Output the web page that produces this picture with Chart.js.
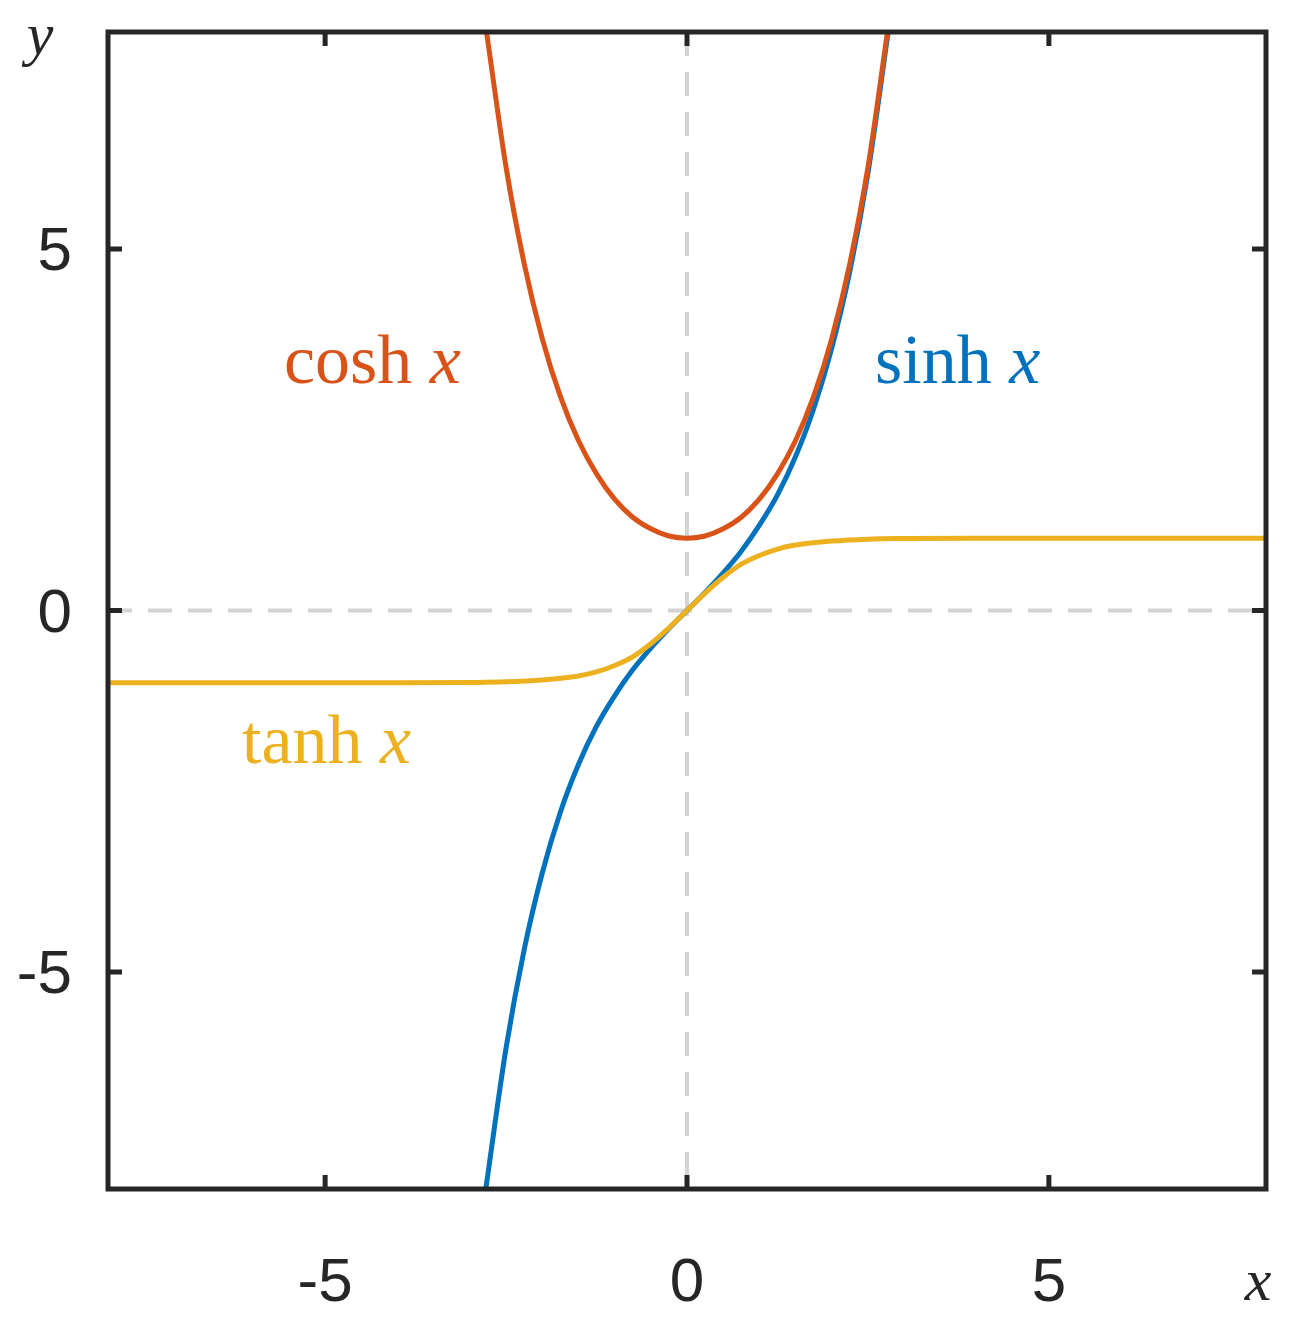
<!DOCTYPE html>
<html><head><meta charset="utf-8">
<script src="https://cdn.jsdelivr.net/npm/chart.js@4/dist/chart.umd.min.js"></script>
<style>html,body{margin:0;padding:0;background:#fff}</style>
</head><body>
<canvas id="c" width="1307" height="1321"></canvas>
<script>
// values
const sinhX = [-2.78, -2.5, -2.25, -2, -1.75, -1.5, -1.25, -1, -0.75, -0.5, -0.25, 0, 0.25, 0.5, 0.75, 1, 1.25, 1.5, 1.75, 2, 2.25, 2.5, 2.78];
const sinhY = [-8, -6.05, -4.69, -3.63, -2.79, -2.13, -1.60, -1.18, -0.82, -0.52, -0.25, 0, 0.25, 0.52, 0.82, 1.18, 1.60, 2.13, 2.79, 3.63, 4.69, 6.05, 8];
const coshX = [-2.77, -2.5, -2.25, -2, -1.75, -1.5, -1.25, -1, -0.75, -0.5, -0.25, 0, 0.25, 0.5, 0.75, 1, 1.25, 1.5, 1.75, 2, 2.25, 2.5, 2.77];
const coshY = [8, 6.13, 4.80, 3.76, 2.96, 2.35, 1.89, 1.54, 1.29, 1.13, 1.03, 1, 1.03, 1.13, 1.29, 1.54, 1.89, 2.35, 2.96, 3.76, 4.80, 6.13, 8];
const tanhX = [-8, -4, -3, -2.5, -2, -1.5, -1.25, -1, -0.75, -0.5, -0.25, 0, 0.25, 0.5, 0.75, 1, 1.25, 1.5, 2, 2.5, 3, 4, 8];
const tanhY = [-1, -0.999, -0.995, -0.987, -0.96, -0.905, -0.85, -0.76, -0.64, -0.46, -0.24, 0, 0.24, 0.46, 0.64, 0.76, 0.85, 0.905, 0.96, 0.987, 0.995, 0.999, 1];
const tickVals = [-5, 0, 5];

const pts = (xs, ys) => xs.map((x, i) => ({ x, y: ys[i] }));
const ds = (data, color) => ({ data, borderColor: color, borderWidth: 5, pointRadius: 0,
    fill: false, cubicInterpolationMode: 'monotone' });

const decor = {
    id: 'decor',
    beforeDatasetsDraw(chart) {
        const { ctx, chartArea: a, scales: { x, y } } = chart;
        ctx.save();
        ctx.strokeStyle = '#d4d4d4'; ctx.lineWidth = 4; ctx.setLineDash([24, 16]);
        ctx.beginPath();
        ctx.moveTo(x.getPixelForValue(0), a.top); ctx.lineTo(x.getPixelForValue(0), a.bottom);
        ctx.moveTo(a.left, y.getPixelForValue(0)); ctx.lineTo(a.right, y.getPixelForValue(0));
        ctx.stroke();
        ctx.restore();
    },
    afterDraw(chart) {
        const { ctx, chartArea: a, scales: { x, y } } = chart;
        ctx.save();
        ctx.strokeStyle = '#262626'; ctx.lineWidth = 5;
        ctx.strokeRect(a.left, a.top, a.right - a.left, a.bottom - a.top);
        ctx.beginPath();
        tickVals.forEach(v => {
            const px = x.getPixelForValue(v), py = y.getPixelForValue(v);
            ctx.moveTo(px, a.bottom); ctx.lineTo(px, a.bottom - 14);
            ctx.moveTo(px, a.top); ctx.lineTo(px, a.top + 14);
            ctx.moveTo(a.left, py); ctx.lineTo(a.left + 14, py);
            ctx.moveTo(a.right, py); ctx.lineTo(a.right - 14, py);
        });
        ctx.stroke();
        ctx.fillStyle = '#262626'; ctx.font = '62px Arial, "Liberation Sans"';
        ctx.textBaseline = 'middle';
        tickVals.forEach(v => {
            ctx.textAlign = 'center';
            ctx.fillText(String(v), x.getPixelForValue(v), 1284);
            ctx.textAlign = 'right';
            ctx.fillText(String(v), 72, y.getPixelForValue(v) + 4);
        });
        ctx.font = 'italic 60px "Liberation Serif", "DejaVu Serif", serif';
        ctx.textAlign = 'center';
        ctx.fillText('y', 40, 38);
        ctx.fillText('x', 1258, 1284);
        const lab = (t, px, py, c) => {
            ctx.fillStyle = c; ctx.textAlign = 'left';
            ctx.font = '70px "Liberation Serif", serif';
            ctx.fillText(t, px, py);
            const w = ctx.measureText(t + ' ').width;
            ctx.font = 'italic 70px "Liberation Serif", serif';
            ctx.fillText('x', px + w, py);
        };
        lab('cosh', 284, 365, '#D95319');
        lab('sinh', 875, 365, '#0072BD');
        lab('tanh', 242, 745, '#EDB120');
        ctx.restore();
    }
};

new Chart(document.getElementById('c'), {
    type: 'line',
    data: { datasets: [
        ds(pts(coshX, coshY), '#D95319'),
        ds(pts(tanhX, tanhY), '#EDB120'),
        ds(pts(sinhX, sinhY), '#0072BD')
    ] },
    options: {
        responsive: false, devicePixelRatio: 1, animation: false,
        layout: { padding: { left: 108, top: 32, right: 41, bottom: 132 } },
        plugins: { legend: { display: false }, tooltip: { enabled: false } },
        scales: {
            x: { type: 'linear', min: -8, max: 8, display: false },
            y: { type: 'linear', min: -8, max: 8, display: false }
        }
    },
    plugins: [decor]
});
</script>
</body></html>
